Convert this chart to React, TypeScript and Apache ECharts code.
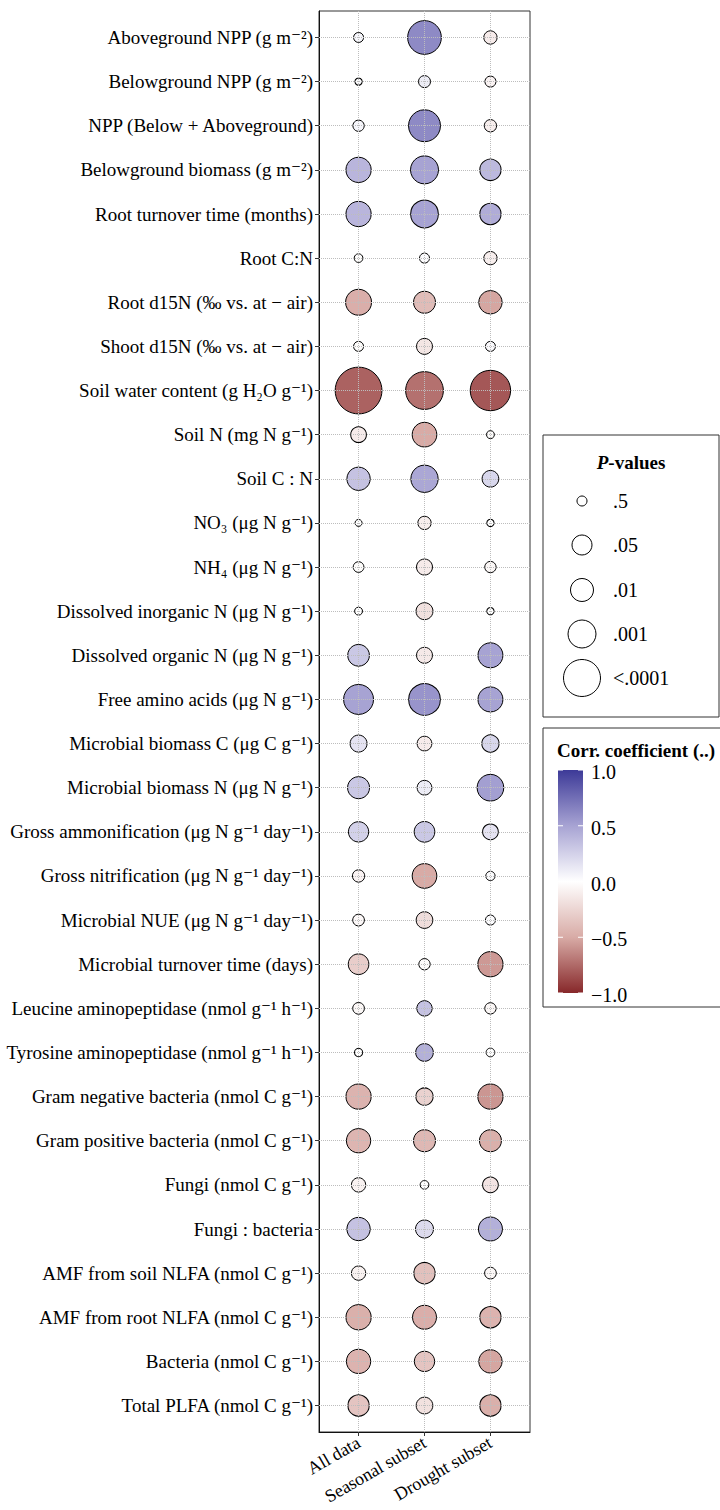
import React, { useEffect, useRef } from "react";
import * as echarts from "echarts";

const rowLabels = [
  "Aboveground NPP (g m⁻²)",
  "Belowground NPP (g m⁻²)",
  "NPP (Below + Aboveground)",
  "Belowground biomass (g m⁻²)",
  "Root turnover time (months)",
  "Root C:N",
  "Root d15N (‰ vs. at − air)",
  "Shoot d15N (‰ vs. at − air)",
  "Soil water content (g H₂O g⁻¹)",
  "Soil N (mg N g⁻¹)",
  "Soil C : N",
  "NO₃ (μg N g⁻¹)",
  "NH₄ (μg N g⁻¹)",
  "Dissolved inorganic N (μg N g⁻¹)",
  "Dissolved organic N (μg N g⁻¹)",
  "Free amino acids (μg N g⁻¹)",
  "Microbial biomass C (μg C g⁻¹)",
  "Microbial biomass N (μg N g⁻¹)",
  "Gross ammonification (μg N g⁻¹ day⁻¹)",
  "Gross nitrification (μg N g⁻¹ day⁻¹)",
  "Microbial NUE (μg N g⁻¹ day⁻¹)",
  "Microbial turnover time (days)",
  "Leucine aminopeptidase (nmol g⁻¹ h⁻¹)",
  "Tyrosine aminopeptidase (nmol g⁻¹ h⁻¹)",
  "Gram negative bacteria (nmol C g⁻¹)",
  "Gram positive bacteria (nmol C g⁻¹)",
  "Fungi (nmol C g⁻¹)",
  "Fungi : bacteria",
  "AMF from soil NLFA (nmol C g⁻¹)",
  "AMF from root NLFA (nmol C g⁻¹)",
  "Bacteria (nmol C g⁻¹)",
  "Total PLFA (nmol C g⁻¹)",
];

const groups = ["All data", "Seasonal subset", "Drought subset"];

// correlation coefficients
const corrAll = [0.05, 0.02, 0.05, 0.4, 0.4, -0.02, -0.48, -0.02, -0.78, -0.12, 0.33, 0.0, -0.02, 0.0, 0.3, 0.5, 0.15, 0.3, 0.25, -0.07, -0.04, -0.3, -0.05, 0.0, -0.45, -0.44, -0.08, 0.33, -0.08, -0.47, -0.45, -0.35];
const corrSeasonal = [0.62, 0.1, 0.62, 0.5, 0.5, 0.02, -0.4, -0.15, -0.72, -0.5, 0.48, -0.1, -0.12, -0.18, -0.13, 0.57, -0.12, 0.1, 0.3, -0.5, -0.2, -0.02, 0.33, 0.43, -0.27, -0.42, 0.0, 0.2, -0.37, -0.48, -0.35, -0.18];
const corrDrought = [-0.12, -0.07, -0.1, 0.38, 0.45, -0.1, -0.52, 0.03, -0.82, -0.02, 0.22, 0.0, -0.05, 0.0, 0.5, 0.5, 0.22, 0.52, 0.15, 0.02, 0.02, -0.57, -0.05, 0.0, -0.58, -0.47, -0.16, 0.43, -0.05, -0.45, -0.52, -0.47];

// -log10(p)
const nlpAll = [0.3, 0.03, 0.43, 2.46, 2.46, 0.17, 2.6, 0.3, 5.08, 0.87, 2.06, 0.0, 0.37, 0.1, 1.7, 3.22, 1.0, 1.77, 1.37, 0.53, 0.47, 1.46, 0.47, 0.13, 2.46, 2.26, 0.73, 2.06, 0.73, 2.46, 2.26, 1.6];
const nlpSeasonal = [3.63, 0.5, 3.44, 3.0, 2.94, 0.3, 1.77, 0.9, 4.08, 2.34, 2.86, 0.63, 0.9, 1.0, 0.9, 3.41, 0.77, 0.77, 1.46, 2.34, 0.97, 0.43, 0.83, 1.07, 1.03, 1.77, 0.17, 1.1, 1.6, 2.2, 1.37, 0.97];
const nlpDrought = [0.63, 0.4, 0.53, 1.6, 1.6, 0.63, 2.06, 0.3, 4.37, 0.1, 0.97, 0.03, 0.43, 0.03, 2.4, 2.4, 1.03, 2.74, 0.87, 0.23, 0.3, 2.46, 0.43, 0.17, 2.46, 1.77, 0.87, 2.2, 0.47, 1.6, 2.06, 1.6];

const pBreaks = [0.5, 0.05, 0.01, 0.001, 0.0001];
const pBreakLabels = [".5", ".05", ".01", ".001", "<.0001"];
const corrTicks = [1, 0.5, 0, -0.5, -1];
const corrTickLabels = ["1.0", "0.5", "0.0", "−0.5", "−1.0"];

// size scale (-log10 p -> diameter)
const sizeKnotsV = [0, 0.301, 1.301, 2, 3, 4];
const sizeKnotsD = [7, 10, 20, 23, 28, 37];
function pSize(v: number): number {
  if (v <= sizeKnotsV[0]) return sizeKnotsD[0];
  for (let i = 1; i < sizeKnotsV.length; i++) {
    if (v <= sizeKnotsV[i]) {
      const t = (v - sizeKnotsV[i - 1]) / (sizeKnotsV[i] - sizeKnotsV[i - 1]);
      return sizeKnotsD[i - 1] + t * (sizeKnotsD[i] - sizeKnotsD[i - 1]);
    }
  }
  const n = sizeKnotsV.length - 1;
  const slope = (sizeKnotsD[n] - sizeKnotsD[n - 1]) / (sizeKnotsV[n] - sizeKnotsV[n - 1]);
  return sizeKnotsD[n] + (v - sizeKnotsV[n]) * slope;
}

// colour scale from -1 to 1
const corrColors = ["#87282A", "#D8ABA6", "#FFFFFF", "#A7A3D3", "#3D3A98"];
function corrColor(r: number): string {
  const t = Math.max(0, Math.min(1, (r + 1) / 2));
  return echarts.color.lerp(t, corrColors) as string;
}

const FONT = "'Liberation Serif', 'Times New Roman', 'DejaVu Serif', serif";

export default function App() {
  const ref = useRef<HTMLDivElement>(null);
  useEffect(() => {
    document.body.style.margin = "0";
    if (!ref.current) return;
    const chart = echarts.init(ref.current, undefined, { renderer: "svg" });

    const corrs = [corrAll, corrSeasonal, corrDrought];
    const nlps = [nlpAll, nlpSeasonal, nlpDrought];
    const data: any[] = [];
    groups.forEach((_, j) => {
      rowLabels.forEach((_, i) => {
        data.push({
          value: [j + 1, i, corrs[j][i], nlps[j][i]],
          itemStyle: { color: corrColor(corrs[j][i]) },
        });
      });
    });

    const gridLeft = 319, gridTop = 11, gridW = 211, gridH = 1421;

    const gridLines = [
      ...rowLabels.map((_, i) => ({ yAxis: i })),
      ...groups.map((_, j) => ({ xAxis: j + 1 })),
    ];

    // legend graphics
    const pBoxX = 543, pBoxY = 435;
    const pRowsY = [501, 545, 590, 634, 678];
    const pElems: any[] = [
      { type: "rect", shape: { x: pBoxX, y: pBoxY, width: 176, height: 282 }, style: { fill: "#fff", stroke: "#333", lineWidth: 1 } },
      {
        type: "text", x: 631, y: 462,
        style: {
          text: "{i|P}{b|-values}", align: "center", verticalAlign: "middle",
          rich: {
            i: { fontFamily: FONT, fontSize: 19, fontWeight: "bold", fontStyle: "italic", fill: "#000" },
            b: { fontFamily: FONT, fontSize: 19, fontWeight: "bold", fill: "#000" },
          },
        },
      },
    ];
    pBreaks.forEach((p, k) => {
      pElems.push({
        type: "circle", shape: { cx: 582, cy: pRowsY[k], r: pSize(-Math.log10(p)) / 2 },
        style: { fill: "#fff", stroke: "#000", lineWidth: 1 },
      });
      pElems.push({
        type: "text", x: 613, y: pRowsY[k],
        style: { text: pBreakLabels[k], fontFamily: FONT, fontSize: 20, fill: "#000", verticalAlign: "middle", align: "left" },
      });
    });

    const barX = 558, barY = 770, barW = 25, barH = 223;
    const cElems: any[] = [
      { type: "rect", shape: { x: 543, y: 728, width: 190, height: 279 }, style: { fill: "#fff", stroke: "#333", lineWidth: 1 } },
      {
        type: "text", x: 557, y: 750,
        style: { text: "Corr. coefficient (..)", fontFamily: FONT, fontSize: 19, fontWeight: "bold", fill: "#000", verticalAlign: "middle", align: "left" },
      },
      {
        type: "rect", shape: { x: barX, y: barY, width: barW, height: barH },
        style: {
          fill: new echarts.graphic.LinearGradient(0, 0, 0, 1,
            corrColors.slice().reverse().map((c, k) => ({ offset: k / (corrColors.length - 1), color: c }))),
        },
      },
    ];
    corrTicks.forEach((t, k) => {
      const y = barY + ((1 - t) / 2) * barH;
      cElems.push({ type: "line", shape: { x1: barX, y1: y, x2: barX + 5, y2: y }, style: { stroke: "#fff", lineWidth: 1 } });
      cElems.push({ type: "line", shape: { x1: barX + barW - 5, y1: y, x2: barX + barW, y2: y }, style: { stroke: "#fff", lineWidth: 1 } });
      cElems.push({
        type: "text", x: 591, y: y + 2,
        style: { text: corrTickLabels[k], fontFamily: FONT, fontSize: 20, fill: "#000", verticalAlign: "middle", align: "left" },
      });
    });

    chart.setOption({
      animation: false,
      backgroundColor: "#fff",
      grid: {
        left: gridLeft, top: gridTop, width: gridW, height: gridH,
        show: true, borderColor: "#333", borderWidth: 1, backgroundColor: "transparent",
        containLabel: false, outerBoundsMode: "none",
      },
      xAxis: {
        type: "value", min: 0.4, max: 3.6,
        axisLine: { show: true, onZero: false, lineStyle: { color: "#111", width: 1 } },
        axisTick: { show: true, customValues: [1, 2, 3], length: 4, lineStyle: { color: "#333" } },
        axisLabel: {
          customValues: [1, 2, 3],
          formatter: (v: number) => groups[Math.round(v) - 1] ?? "",
          rotate: 30, margin: 9, fontFamily: FONT, fontSize: 18, color: "#000",
        },
        splitLine: { show: false },
      },
      yAxis: {
        type: "value", min: -0.6, max: rowLabels.length - 1 + 0.6, inverse: true,
        axisLine: { show: true, onZero: false, lineStyle: { color: "#111", width: 1 } },
        axisTick: { show: true, customValues: rowLabels.map((_, i) => i), length: 4, lineStyle: { color: "#333" } },
        axisLabel: {
          customValues: rowLabels.map((_, i) => i),
          formatter: (v: number) => rowLabels[Math.round(v)] ?? "",
          margin: 6, fontFamily: FONT, fontSize: 19, color: "#000",
        },
        splitLine: { show: false },
      },
      series: [
        {
          type: "scatter", data: [], z: 1, silent: true,
          markLine: {
            silent: true, symbol: "none", label: { show: false },
            lineStyle: { color: "#BDBDBD", type: "dotted", width: 1 },
            data: gridLines,
          },
        },
        {
          type: "scatter", z: 3,
          data,
          symbol: "circle",
          symbolSize: (val: number[]) => pSize(val[3]),
          itemStyle: { borderColor: "#000", borderWidth: 1, opacity: 1 },
        },
      ],
      graphic: [...pElems, ...cElems],
    });
    return () => chart.dispose();
  }, []);
  return <div ref={ref} style={{ width: 720, height: 1510 }} />;
}
